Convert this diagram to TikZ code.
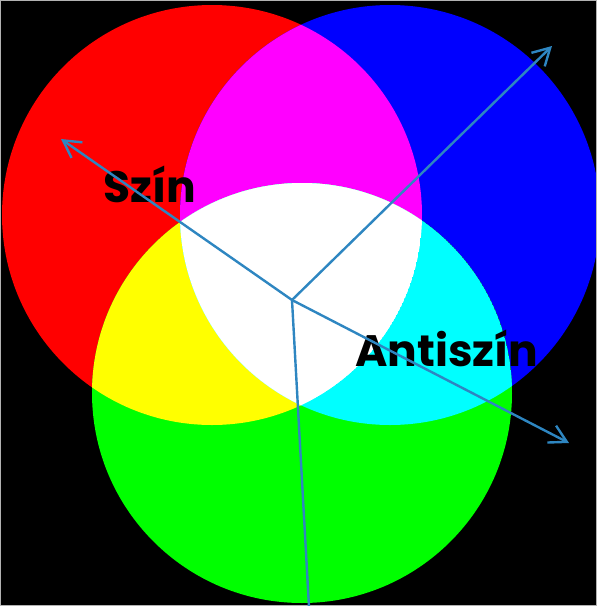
\documentclass[tikz,border=0pt]{standalone}
\usepackage{fontspec}
\newfontfamily\labelfont{Poppins}
\usetikzlibrary{arrows.meta, positioning}
\definecolor{arrowblue}{RGB}{46,134,193}
\definecolor{purered}{RGB}{255,0,0}
\definecolor{puregreen}{RGB}{0,255,0}
\definecolor{pureblue}{RGB}{0,0,255}
\definecolor{puremagenta}{RGB}{255,0,255}
\definecolor{pureyellow}{RGB}{255,255,0}
\definecolor{purecyan}{RGB}{0,255,255}

\begin{document}
\begin{tikzpicture}[
    x=1pt, y=-1pt,
    arrowline/.style={draw=arrowblue, line width=2.4pt, -{Straight Barb[length=17pt,width=19pt,line width=2.4pt]}},
    plainline/.style={draw=arrowblue, line width=2.4pt},
    textlabel/.style={font=\labelfont\bfseries\fontsize{44}{48}\selectfont, text=black, inner sep=0pt}
]
    % Background
    \fill[black] (0,0) rectangle (597,606);
    \useasboundingbox (0,0) rectangle (597,606);

    % Circle centres
    \coordinate (red) at (212,215);
    \coordinate (blue) at (390,215);
    \coordinate (green) at (302,393);
    \def\rad{210}

    % Primary circles
    \fill[purered] (red) circle (\rad);
    \fill[pureblue] (blue) circle (\rad);
    \fill[puregreen] (green) circle (\rad);

    % Overlaps
    \begin{scope}
        \clip (red) circle (\rad);
        \fill[puremagenta] (blue) circle (\rad);
        \fill[pureyellow] (green) circle (\rad);
        \clip (blue) circle (\rad);
        \fill[white] (green) circle (\rad);
    \end{scope}
    \begin{scope}
        \clip (blue) circle (\rad);
        \clip (green) circle (\rad);
        \fill[purecyan] (green) circle (\rad);
        \clip (red) circle (\rad);
        \fill[white] (red) circle (\rad);
    \end{scope}

    % Frame
    \draw[gray!60, line width=0.8pt] (0.4,0.4) rectangle (596.6,605.6);

    % Labels
    \node[textlabel, anchor=base west] (szin) at (103,202) {Szín};
    \node[textlabel, anchor=base west] (antiszin) at (355,366) {Antiszín};

    % Arrows from the middle
    \coordinate (middle) at (292,300);
    \coordinate (szintip) at (61,139);
    \coordinate (bluetip) at (552,46);
    \coordinate (antitip) at (569,443);
    \coordinate (bottom) at (309,607);
    \draw[arrowline] (middle) -- (szintip);
    \draw[arrowline] (middle) -- (bluetip);
    \draw[arrowline] (middle) -- (antitip);
    \draw[plainline] (middle) -- (bottom);
\end{tikzpicture}
\end{document}
